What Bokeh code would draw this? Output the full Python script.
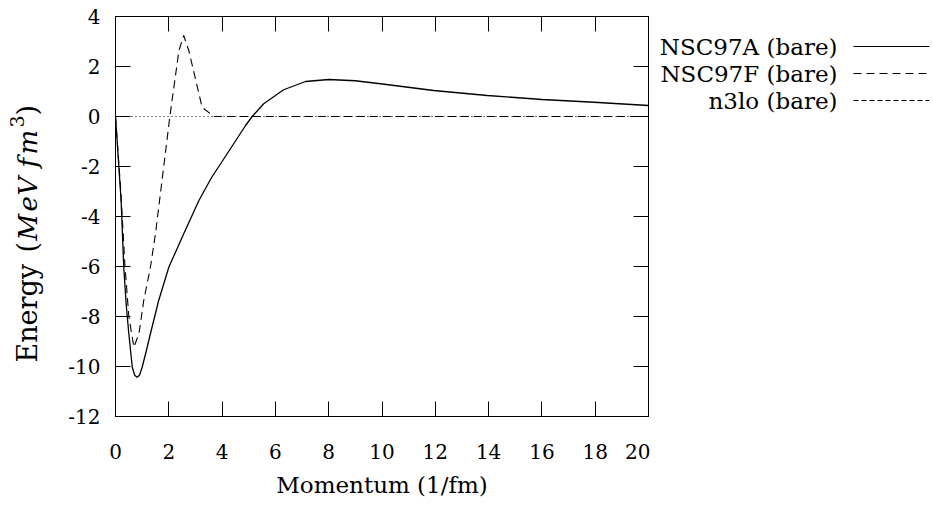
import math

from bokeh.plotting import figure
from bokeh.models import Range1d, LinearAxis, FixedTicker
from bokeh.layouts import row
from bokeh.core.properties import value
from bokeh.embed import file_html
from bokeh.resources import INLINE

# Bare hyperon-nucleon potentials in momentum space
nsc97a_k = [0.0, 0.1, 0.21, 0.31, 0.4, 0.5, 0.63, 0.72, 0.81, 0.9, 1.0, 1.15,
            1.31, 1.62, 2.0, 2.56, 3.13, 3.6, 4.19, 4.88, 5.13, 5.56, 6.31,
            7.13, 8.0, 9.0, 9.94, 11.94, 13.95, 16.01, 17.95, 20.0]
nsc97a_v = [0.0, -1.6, -3.36, -6.03, -7.5, -8.69, -10.03, -10.35, -10.43,
            -10.35, -10.03, -9.4, -8.69, -7.36, -6.03, -4.69, -3.36, -2.45,
            -1.49, -0.36, 0.0, 0.51, 1.07, 1.40, 1.48, 1.43, 1.31, 1.04, 0.84,
            0.68, 0.57, 0.44]

nsc97f_k = [0.0, 0.2, 0.35, 0.5, 0.69, 0.88, 1.06, 1.31, 1.5, 2.04, 2.38,
            2.56, 2.75, 3.25, 3.69, 4.0, 6.0, 8.0, 10.0, 12.0, 14.0, 16.0,
            18.0, 20.0]
nsc97f_v = [0.0, -3.0, -5.9, -8.0, -9.23, -8.69, -7.36, -6.03, -4.69, 0.0,
            2.64, 3.24, 2.64, 0.37, 0.0, 0.0, 0.0, 0.0, 0.0, 0.0, 0.0, 0.0,
            0.0, 0.0]

n3lo_k = [0.0, 2.0, 4.0, 6.0, 8.0, 10.0, 12.0, 14.0, 16.0, 18.0, 20.0]
n3lo_v = [0.0, 0.0, 0.0, 0.0, 0.0, 0.0, 0.0, 0.0, 0.0, 0.0, 0.0]

x_ticks = [0, 2, 4, 6, 8, 10, 12, 14, 16, 18, 20]
y_ticks = [-12, -10, -8, -6, -4, -2, 0, 2, 4]

series_names = ["NSC97A (bare)", "NSC97F (bare)", "n3lo (bare)"]

FONT = "DejaVu Serif"
TICK_SIZE = "20px"
LABEL_SIZE = "23px"
KEY_SIZE = "23px"

WIN_W, WIN_H = 933, 508
TITLE_W = 60                      # panel holding the rotated y title
LEFT, RIGHT, TOP, BOTTOM = 55, 2, 16, 92
FRAME_W, FRAME_H = 533, 400
MAIN_W = LEFT + FRAME_W + RIGHT
KEY_W = WIN_W - TITLE_W - MAIN_W

p = figure(width=MAIN_W, height=WIN_H, x_range=Range1d(0, 20),
           y_range=Range1d(-12, 4), title=None,
           output_backend="svg", toolbar_location=None,
           min_border_left=LEFT, min_border_right=RIGHT,
           min_border_top=TOP, min_border_bottom=BOTTOM)
p.grid.visible = False
p.outline_line_color = "black"
p.outline_line_width = 1
p.background_fill_color = "white"
p.border_fill_color = "white"


def plain_labels(ticks):
    # hyphen-minus labels, e.g. "-12"
    return {t: str(t) for t in ticks}


def style_axis(ax, ticks, show_labels):
    ax.ticker = FixedTicker(ticks=ticks)
    ax.major_tick_in = 15
    ax.major_tick_out = 0
    ax.minor_tick_line_color = None
    ax.axis_line_color = "black"
    ax.major_tick_line_color = "black"
    if show_labels:
        ax.major_label_overrides = plain_labels(ticks)
        ax.major_label_text_font = FONT
        ax.major_label_text_font_size = TICK_SIZE
        ax.major_label_text_color = "black"
    else:
        ax.major_label_overrides = {t: "" for t in ticks}
        ax.major_label_text_color = None
        ax.major_label_standoff = 0


style_axis(p.xaxis[0], x_ticks, True)
p.xaxis[0].major_label_standoff = 27
p.xaxis[0].axis_label = "Momentum (1/fm)"
p.xaxis[0].axis_label_text_font = FONT
p.xaxis[0].axis_label_text_font_size = LABEL_SIZE
p.xaxis[0].axis_label_text_font_style = "normal"
p.xaxis[0].axis_label_text_color = "black"
p.xaxis[0].axis_label_standoff = 10

style_axis(p.yaxis[0], y_ticks, True)
p.yaxis[0].major_label_standoff = 15

top_axis = LinearAxis()
style_axis(top_axis, x_ticks, False)
p.add_layout(top_axis, "above")
right_axis = LinearAxis()
style_axis(right_axis, y_ticks, False)
p.add_layout(right_axis, "right")

# curves
p.line(n3lo_k, n3lo_v, line_color="black", line_width=1, line_dash="1 3")
p.line(nsc97f_k, nsc97f_v, line_color="black", line_width=1.1, line_dash="8 5")
p.line(nsc97a_k, nsc97a_v, line_color="black", line_width=1.3)


def blank_panel(width):
    # side panel whose data units are page pixels (frames in a row share
    # the main plot's top and bottom edges)
    f = figure(width=width, height=WIN_H, x_range=Range1d(0, width),
               y_range=Range1d(TOP + FRAME_H, TOP), title=None,
               x_axis_location=None, y_axis_location=None,
               output_backend="svg", toolbar_location=None,
               min_border=0, min_border_left=0, min_border_right=0,
               min_border_top=TOP, min_border_bottom=BOTTOM)
    f.grid.visible = False
    f.outline_line_color = None
    f.background_fill_color = "white"
    f.border_fill_color = "white"
    return f


# rotated y title: "Energy (MeV fm^3)" with the units in math italic
ytitle = blank_panel(TITLE_W)
BASE = 27
title_parts = [
    # text, start (distance from top), baseline x, size, style
    ("Energy", 362, BASE, "27px", "normal"),
    ("(", 252, BASE, "27px", "normal"),
    ("M", 240, BASE, "26px", "italic"),
    ("e", 211, BASE, "26px", "italic"),
    ("V", 195, BASE, "26px", "italic"),
    ("f", 167, BASE, "26px", "italic"),
    ("m", 154, BASE, "26px", "italic"),
    ("3", 127, BASE - 11, "19px", "normal"),
    (")", 115, BASE, "27px", "normal"),
]
for txt, py, px, size, style in title_parts:
    ytitle.text(x=[px], y=[py], text=[txt], angle=math.pi / 2,
                text_font=value(FONT), text_font_size=value(size),
                text_font_style=value(style), text_color="black",
                text_align="left", text_baseline="alphabetic")

# key to the right of the frame: label then line sample
key = blank_panel(KEY_W)
key_rows = [46.0, 73.0, 100.0]
key_dash = ["solid", "8 5", "5 3"]
text_right = 187
line_x0, line_x1 = 203, 279
for name, ry, dash in zip(series_names, key_rows, key_dash):
    key.text(x=[text_right], y=[ry], text=[name], text_font=value(FONT),
             text_font_size=value(KEY_SIZE), text_align="right",
             text_baseline="middle", text_color="black")
    key.line([line_x0, line_x1], [ry, ry], line_color="black",
             line_width=1.1, line_dash=dash)

layout = row(ytitle, p, key, spacing=0)
with open("out.html", "w") as f:
    f.write(file_html(layout, INLINE))
